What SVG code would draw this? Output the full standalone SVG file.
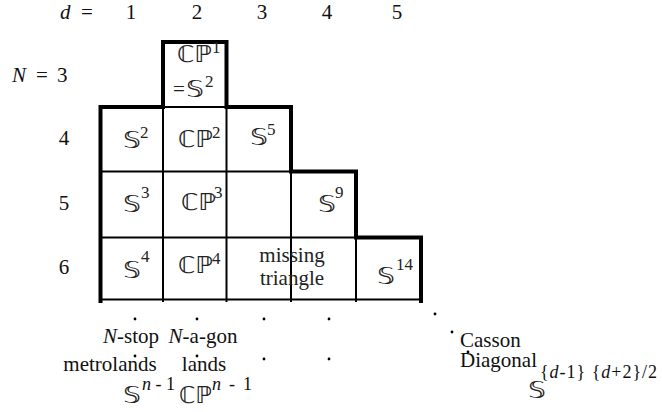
<svg xmlns="http://www.w3.org/2000/svg" width="662" height="412" viewBox="0 0 662 412">
<style>
  .thin { stroke: #000; stroke-width: 2; fill: none; }
  .thick { stroke: #000; stroke-width: 4; fill: none; stroke-linejoin: miter; }
  .dot { fill: #000; }
</style>
<rect width="662" height="412" fill="#fff"/>

<g id="header" font-family="Liberation Serif, serif" font-size="21" fill="#111">
  <text x="60" y="19" font-style="italic">d</text>
  <text x="81" y="19">=</text>
  <text x="131" y="19" text-anchor="middle">1</text>
  <text x="197" y="19" text-anchor="middle">2</text>
  <text x="262" y="19" text-anchor="middle">3</text>
  <text x="327" y="19" text-anchor="middle">4</text>
  <text x="397" y="19" text-anchor="middle">5</text>
  <text x="12" y="82" font-style="italic">N</text>
  <text x="36" y="82">=</text>
  <text x="57" y="82">3</text>
  <text x="64" y="145" text-anchor="middle">4</text>
  <text x="64" y="210" text-anchor="middle">5</text>
  <text x="64" y="274" text-anchor="middle">6</text>
</g>

<g id="grid">
  <line class="thin" x1="163" y1="107" x2="226.5" y2="107"/>
  <line class="thin" x1="100.5" y1="171.5" x2="291" y2="171.5"/>
  <line class="thin" x1="100.5" y1="237.5" x2="356" y2="237.5"/>
  <line class="thin" x1="100.5" y1="299.5" x2="421" y2="299.5"/>
  <line class="thin" x1="163" y1="107" x2="163" y2="302"/>
  <line class="thin" x1="226.5" y1="107" x2="226.5" y2="302"/>
  <line class="thin" x1="291" y1="171.5" x2="291" y2="302"/>
  <line class="thin" x1="356" y1="237.5" x2="356" y2="302"/>
  <path class="thick" d="M100.5,303 V107 H163 V42 H226.5 V107 H291 V171.5 H356 V237.5 H421 V303"/>
</g>

<g id="cells" fill="#222">
<g id="cell-3-2">
  <text x="177" y="62" font-family="DejaVu Sans, sans-serif" font-size="23" textLength="35" lengthAdjust="spacingAndGlyphs">ℂℙ</text>
  <text x="212" y="53" font-family="Liberation Serif, serif" font-size="17">1</text>
  <text x="173" y="96" font-family="Liberation Serif, serif" font-size="21">=</text>
  <text x="186" y="97" font-family="DejaVu Sans, sans-serif" font-size="23" textLength="18" lengthAdjust="spacingAndGlyphs">𝕊</text>
  <text x="205" y="87" font-family="Liberation Serif, serif" font-size="17">2</text>
</g>
<g id="cell-4-1">
  <text x="123" y="148" font-family="DejaVu Sans, sans-serif" font-size="23" textLength="18" lengthAdjust="spacingAndGlyphs">𝕊</text>
  <text x="140" y="138" font-family="Liberation Serif, serif" font-size="17">2</text>
</g>
<g id="cell-4-2">
  <text x="178" y="147" font-family="DejaVu Sans, sans-serif" font-size="23" textLength="35" lengthAdjust="spacingAndGlyphs">ℂℙ</text>
  <text x="212" y="138" font-family="Liberation Serif, serif" font-size="17">2</text>
</g>
<g id="cell-4-3">
  <text x="250" y="145" font-family="DejaVu Sans, sans-serif" font-size="23" textLength="18" lengthAdjust="spacingAndGlyphs">𝕊</text>
  <text x="267" y="135" font-family="Liberation Serif, serif" font-size="17">5</text>
</g>
<g id="cell-5-1">
  <text x="123" y="212" font-family="DejaVu Sans, sans-serif" font-size="23" textLength="18" lengthAdjust="spacingAndGlyphs">𝕊</text>
  <text x="141" y="198" font-family="Liberation Serif, serif" font-size="17">3</text>
</g>
<g id="cell-5-2">
  <text x="181" y="210" font-family="DejaVu Sans, sans-serif" font-size="23" textLength="35" lengthAdjust="spacingAndGlyphs">ℂℙ</text>
  <text x="214" y="198" font-family="Liberation Serif, serif" font-size="17">3</text>
</g>
<g id="cell-5-4">
  <text x="318" y="212" font-family="DejaVu Sans, sans-serif" font-size="23" textLength="18" lengthAdjust="spacingAndGlyphs">𝕊</text>
  <text x="335" y="198" font-family="Liberation Serif, serif" font-size="17">9</text>
</g>
<g id="cell-6-1">
  <text x="123" y="278" font-family="DejaVu Sans, sans-serif" font-size="23" textLength="18" lengthAdjust="spacingAndGlyphs">𝕊</text>
  <text x="141" y="262" font-family="Liberation Serif, serif" font-size="17">4</text>
</g>
<g id="cell-6-2">
  <text x="178" y="273" font-family="DejaVu Sans, sans-serif" font-size="23" textLength="35" lengthAdjust="spacingAndGlyphs">ℂℙ</text>
  <text x="212" y="264" font-family="Liberation Serif, serif" font-size="17">4</text>
</g>
<g id="cell-6-3" font-family="Liberation Serif, serif" font-size="21">
  <text x="292" y="262" text-anchor="middle">missing</text>
  <text x="292" y="285" text-anchor="middle">triangle</text>
</g>
<g id="cell-6-5">
  <text x="377" y="284" font-family="DejaVu Sans, sans-serif" font-size="23" textLength="18" lengthAdjust="spacingAndGlyphs">𝕊</text>
  <text x="396" y="270" font-family="Liberation Serif, serif" font-size="17">14</text>
</g>
</g>

<g id="dots">
  <circle class="dot" cx="135" cy="319" r="1.4"/>
  <circle class="dot" cx="197" cy="319" r="1.4"/>
  <circle class="dot" cx="264" cy="319" r="1.4"/>
  <circle class="dot" cx="329" cy="319" r="1.4"/>
  <circle class="dot" cx="135" cy="356" r="1.4"/>
  <circle class="dot" cx="197" cy="356" r="1.4"/>
  <circle class="dot" cx="264" cy="359" r="1.4"/>
  <circle class="dot" cx="329" cy="359" r="1.4"/>
  <circle class="dot" cx="435" cy="314" r="1.4"/>
  <circle class="dot" cx="452" cy="332" r="1.4"/>
  <circle class="dot" cx="468" cy="352" r="1.4"/>
</g>

<g id="labels" fill="#111">
<g id="label-metrolands">
  <text x="131" y="343" text-anchor="middle" font-family="Liberation Serif, serif" font-size="21"><tspan font-style="italic">N</tspan>-stop</text>
  <text x="110" y="371" text-anchor="middle" font-family="Liberation Serif, serif" font-size="21">metrolands</text>
  <text x="123" y="403" font-family="DejaVu Sans, sans-serif" font-size="23" fill="#222" textLength="18" lengthAdjust="spacingAndGlyphs">𝕊</text>
  <text x="142" y="390" font-family="Liberation Serif, serif" font-size="18"><tspan font-style="italic">n</tspan> - 1</text>
</g>
<g id="label-nagon">
  <text x="203" y="343" text-anchor="middle" font-family="Liberation Serif, serif" font-size="21"><tspan font-style="italic">N</tspan>-a-gon</text>
  <text x="204" y="371" text-anchor="middle" font-family="Liberation Serif, serif" font-size="21">lands</text>
  <text x="179" y="403" font-family="DejaVu Sans, sans-serif" font-size="23" fill="#222" textLength="33" lengthAdjust="spacingAndGlyphs">ℂℙ</text>
  <text x="212" y="390" font-family="Liberation Serif, serif" font-size="18" textLength="40" lengthAdjust="spacing"><tspan font-style="italic">n</tspan> - 1</text>
</g>
<g id="label-casson">
  <text x="460" y="347" font-family="Liberation Serif, serif" font-size="21">Casson</text>
  <text x="460" y="367" font-family="Liberation Serif, serif" font-size="21">Diagonal</text>
  <text x="528" y="398" font-family="DejaVu Sans, sans-serif" font-size="23" fill="#222" textLength="18" lengthAdjust="spacingAndGlyphs">𝕊</text>
  <text x="540" y="378" font-family="Liberation Serif, serif" font-size="18" textLength="117" lengthAdjust="spacing">{<tspan font-style="italic">d</tspan>-1} {<tspan font-style="italic">d</tspan>+2}/2</text>
</g>
</g>
</svg>
